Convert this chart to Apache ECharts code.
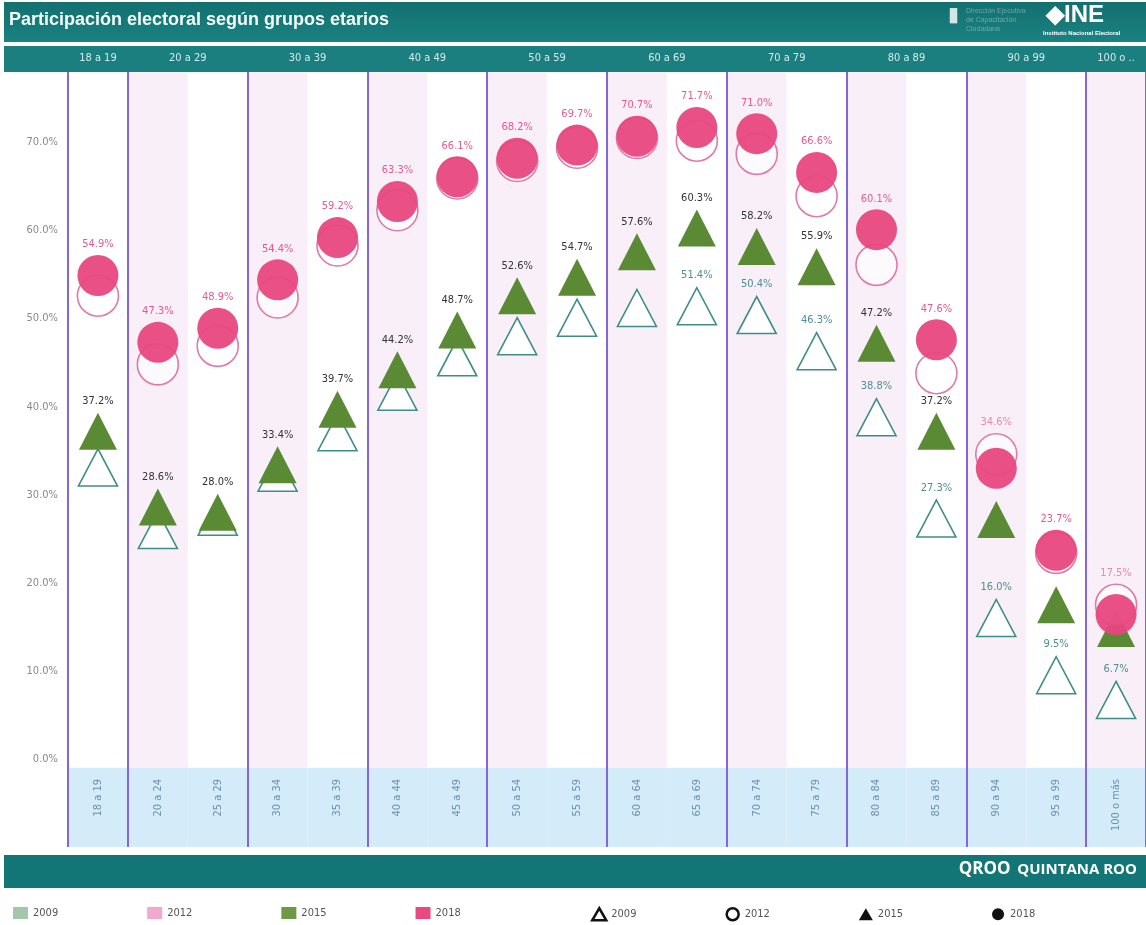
<!DOCTYPE html>
<html>
<head>
<meta charset="utf-8">
<script src="https://cdn.jsdelivr.net/npm/echarts@6/dist/echarts.min.js"></script>
<style>
html,body{margin:0;padding:0;background:#fff;}
#c{width:1146px;height:925px;}
</style>
</head>
<body>
<div id="c"></div>
<script>
// ---- data ----
const ageGroups = ['18 a 19','20 a 24','25 a 29','30 a 34','35 a 39','40 a 44','45 a 49','50 a 54','55 a 59',
  '60 a 64','65 a 69','70 a 74','75 a 79','80 a 84','85 a 89','90 a 94','95 a 99','100 o más'];
const groupLabels = ['18 a 19','20 a 29','30 a 39','40 a 49','50 a 59','60 a 69','70 a 79','80 a 89','90 a 99','100 o ..'];
const groupCenters = [0.5,2,4,6,8,10,12,14,16,17.5];
const yTickValues = [0,10,20,30,40,50,60,70];

const v2009 = [33.1,26.0,27.5,32.5,37.1,41.7,45.6,48.0,50.1,51.2,51.4,50.4,46.3,38.8,27.3,16.0,9.5,6.7];
const v2012 = [52.6,44.8,46.9,52.4,58.3,62.3,65.9,67.9,69.4,70.5,70.2,68.7,63.9,56.1,43.8,34.6,23.4,17.5];
const v2015 = [37.2,28.6,28.0,33.4,39.7,44.2,48.7,52.6,54.7,57.6,60.3,58.2,55.9,47.2,37.2,27.2,17.5,14.8];
const v2018 = [54.9,47.3,48.9,54.4,59.2,63.3,66.1,68.2,69.7,70.7,71.7,71.0,66.6,60.1,47.6,33.0,23.7,16.4];

// which points carry a value label in the reference
const lab2009 = [0,0,0,0,0,0,0,0,0,0,1,1,1,1,1,1,1,1];
const lab2012 = [0,0,0,0,0,0,0,0,0,0,0,0,0,0,0,1,0,1];
const lab2015 = [1,1,1,1,1,1,1,1,1,1,1,1,1,1,1,0,0,0];
const lab2018 = [1,1,1,1,1,1,1,1,1,1,1,1,1,1,1,0,1,0];

// ---- chart ----
const NARROW = "'Liberation Sans Narrow','Arial Narrow','DejaVu Sans Condensed',sans-serif";
const Y_MIN = -10, Y_MAX = 78, BAND_TOP = -1;

function pts(vals, flags) {
  return vals.map((v, i) => ({ value: [i, v], label: { show: !!flags[i] } }));
}
const pctFmt = p => p.value[1].toFixed(1) + '%';

const chart = echarts.init(document.getElementById('c'), null, { renderer: 'canvas' });

const option = {
  backgroundColor: '#ffffff',
  animation: false,
  grid: { left: 68, top: 72, width: 1080, height: 775, containLabel: false },
  graphic: [
    { type: 'rect', z: -1, shape: { x: 4, y: 2, width: 1142, height: 40 },
      style: { fill: new echarts.graphic.LinearGradient(0, 0, 0, 1, [
        { offset: 0, color: '#13706f' }, { offset: 1, color: '#1a8282' }]) } },
    { type: 'text', left: 9, top: 11,
      style: { text: 'Participación electoral según grupos etarios', fill: '#f4fbfb',
        font: "bold 18px 'Liberation Sans', Arial, sans-serif" } },
    { type: 'text', left: 948, top: 6,
      style: { text: '▮', fill: '#d6e6e6', font: "bold 20px 'DejaVu Sans', sans-serif" } },
    { type: 'text', left: 966, top: 7,
      style: { text: 'Dirección Ejecutiva\nde Capacitación\nCiudadana', fill: 'rgba(200,225,225,0.45)',
        font: "7px 'Liberation Sans', sans-serif", lineHeight: 9 } },
    { type: 'text', left: 1046, top: 3,
      style: { text: '◆INE', fill: '#ffffff', font: "bold 24px 'Liberation Sans', Arial, sans-serif" } },
    { type: 'text', left: 1043, top: 30,
      style: { text: 'Instituto Nacional Electoral', fill: '#ffffff', font: "bold 6px 'Liberation Sans', sans-serif" } },
    { type: 'rect', z: -1, shape: { x: 4, y: 46, width: 1142, height: 26 },
      style: { fill: '#1b7f80' } },
    { type: 'rect', z: -1, shape: { x: 4, y: 855, width: 1142, height: 33 },
      style: { fill: '#137676' } },
    { type: 'text', right: 9, top: 861,
      style: { text: '{a|QROO}  {b|QUINTANA ROO}', fill: '#ffffff',
        rich: {
          a: { fill: '#ffffff', font: "bold 17px 'Open Sans', 'Liberation Sans', sans-serif" },
          b: { fill: '#ffffff', font: "bold 15px 'Open Sans', 'Liberation Sans', sans-serif" }
        } } }
  ],
  legend: [
    { left: 8, top: 902, itemWidth: 15, itemHeight: 12, itemGap: 89, icon: 'rect',
      selectedMode: false,
      textStyle: { color: '#555', fontSize: 11, fontFamily: NARROW },
      data: [
        { name: '2009', itemStyle: { color: '#a3c7ab', borderWidth: 0, opacity: 1 } },
        { name: '2012', itemStyle: { color: '#f2a9cf', borderWidth: 0, opacity: 1 } },
        { name: '2015', itemStyle: { color: '#6e9945', borderWidth: 0, opacity: 1 } },
        { name: '2018', itemStyle: { color: '#e9497f', borderWidth: 0, opacity: 1 } }
      ] },
    { left: 586, top: 902, itemWidth: 14, itemHeight: 12, itemGap: 89,
      selectedMode: false,
      textStyle: { color: '#555', fontSize: 11, fontFamily: NARROW },
      data: [
        { name: '2009', icon: 'triangle', itemStyle: { color: '#ffffff', borderColor: '#111', borderWidth: 2.5, opacity: 1 } },
        { name: '2012', icon: 'circle', itemStyle: { color: '#ffffff', borderColor: '#111', borderWidth: 2.5, opacity: 1 } },
        { name: '2015', icon: 'triangle', itemStyle: { color: '#111', borderWidth: 0, opacity: 1 } },
        { name: '2018', icon: 'circle', itemStyle: { color: '#111', borderWidth: 0, opacity: 1 } }
      ] }
  ],
  xAxis: [
    { type: 'category', data: ageGroups, boundaryGap: true, position: 'bottom', offset: -80,
      axisLine: { show: false }, axisTick: { show: false },
      axisLabel: { rotate: 90, margin: 12, color: '#6f8fae', fontSize: 11, fontFamily: NARROW },
      splitLine: { show: true, interval: (i) => i === 0 || i % 2 === 1,
        lineStyle: { color: '#8566d8', width: 2 } } },
    { type: 'value', min: 0, max: 18, position: 'top',
      axisLine: { show: false }, axisTick: { show: false }, splitLine: { show: false },
      axisLabel: { customValues: groupCenters, margin: 8, color: '#d2ecec', fontSize: 11, fontFamily: NARROW,
        formatter: v => groupLabels[groupCenters.indexOf(v)] } }
  ],
  yAxis: {
    type: 'value', min: Y_MIN, max: Y_MAX, interval: 10,
    axisLine: { show: false }, axisTick: { show: false }, splitLine: { show: false },
    axisLabel: { margin: 10, color: '#8a8a8a', fontSize: 11, fontFamily: NARROW,
      formatter: v => (yTickValues.indexOf(v) >= 0 ? v.toFixed(1) + '%' : '') }
  },
  series: [
    { type: 'custom', silent: true, z: -5, xAxisIndex: 0,
      data: ageGroups.map((g, i) => [i]),
      renderItem: function (params, api) {
        const i = api.value(0);
        const w = api.size([1, 0])[0];
        const top = api.coord([i, Y_MAX]);
        const mid = api.coord([i, BAND_TOP]);
        const bot = api.coord([i, Y_MIN]);
        const children = [
          { type: 'rect', shape: { x: top[0] - w / 2, y: mid[1], width: w, height: bot[1] - mid[1] },
            style: { fill: '#d4ebf9' } }
        ];
        if (i % 2 === 1) {
          children.push({ type: 'rect', shape: { x: top[0] - w / 2, y: top[1], width: w, height: mid[1] - top[1] },
            style: { fill: '#f9eff8' } });
        }
        return { type: 'group', children: children };
      } },
    { name: '2009', type: 'scatter', z: 2, symbol: 'triangle', symbolSize: [39, 37],
      itemStyle: { color: '#ffffff', borderColor: '#3f8d89', borderWidth: 1.6, opacity: 1 },
      label: { position: 'top', distance: 6, color: '#4e8e95', fontSize: 11, fontFamily: NARROW, formatter: pctFmt },
      data: pts(v2009, lab2009) },
    { name: '2015', type: 'scatter', z: 3, symbol: 'triangle', symbolSize: [38, 37],
      itemStyle: { color: '#5a8a34', opacity: 1 },
      label: { position: 'top', distance: 6, color: '#333333', fontSize: 11, fontFamily: NARROW, formatter: pctFmt },
      data: pts(v2015, lab2015) },
    { name: '2012', type: 'scatter', z: 4, symbol: 'circle', symbolSize: 41,
      itemStyle: { color: 'rgba(255,255,255,0.7)', borderColor: '#e07aa6', borderWidth: 1.6, opacity: 1 },
      label: { position: 'top', distance: 5, color: '#e48ab3', fontSize: 11, fontFamily: NARROW, formatter: pctFmt },
      data: pts(v2012, lab2012) },
    { name: '2018', type: 'scatter', z: 5, symbol: 'circle', symbolSize: 41,
      itemStyle: { color: '#e8477e', opacity: 0.95 },
      label: { position: 'top', distance: 5, color: '#e6508a', fontSize: 11, fontFamily: NARROW, formatter: pctFmt },
      data: pts(v2018, lab2018) }
  ]
};
chart.setOption(option);
</script>
</body>
</html>
